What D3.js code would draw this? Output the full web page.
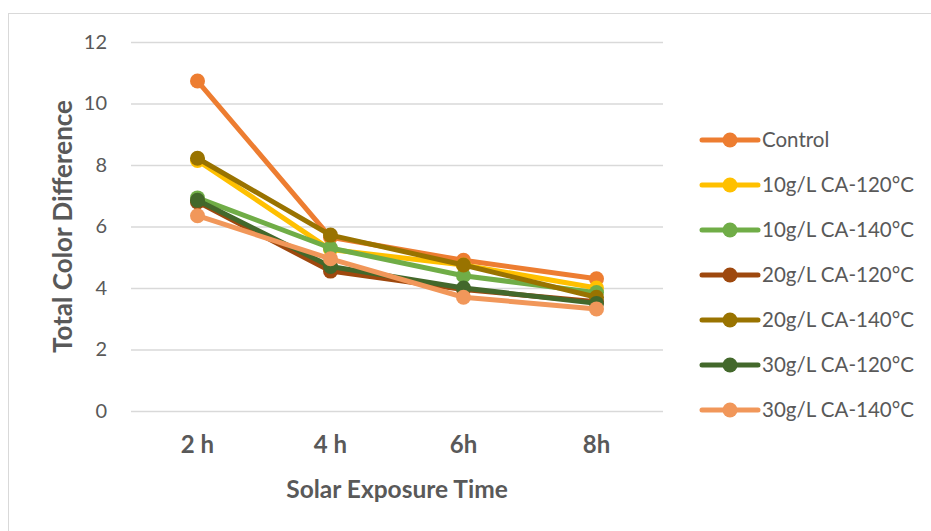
<!DOCTYPE html>
<html>
<head>
<meta charset="utf-8">
<script src="https://cdn.jsdelivr.net/npm/d3@7"></script>
<style>
  html, body { margin: 0; padding: 0; background: #fff; }
  svg { display: block; }
  text { font-family: Lato, "Open Sans", sans-serif; fill: #595959; }
</style>
</head>
<body>
<svg id="chart" width="931" height="531"></svg>
<script>
// Exposure times along the x axis
const times = ["2 h", "4 h", "6h", "8h"];

// Total colour difference for each treatment
const seriesNames = [
  "Control",
  "10g/L CA-120°C",
  "10g/L CA-140°C",
  "20g/L CA-120°C",
  "20g/L CA-140°C",
  "30g/L CA-120°C",
  "30g/L CA-140°C"
];
const control   = [10.73, 5.65, 4.90, 4.30];
const ca10_120  = [8.15, 5.25, 4.75, 4.00];
const ca10_140  = [6.93, 5.30, 4.40, 3.85];
const ca20_120  = [6.80, 4.55, 3.95, 3.55];
const ca20_140  = [8.22, 5.72, 4.75, 3.70];
const ca30_120  = [6.85, 4.70, 4.00, 3.50];
const ca30_140  = [6.35, 4.95, 3.70, 3.32];
const seriesValues = [control, ca10_120, ca10_140, ca20_120, ca20_140, ca30_120, ca30_140];
const seriesColors = ["#ED7D31", "#FFC000", "#70AD47", "#9E480E", "#997300", "#43682B", "#F1975A"];

const yTicks = [0, 2, 4, 6, 8, 10, 12];

const svg = d3.select("#chart");

// Chart area border
svg.append("rect")
  .attr("x", 8.5).attr("y", 13.5)
  .attr("width", 1000).attr("height", 1000)
  .attr("fill", "none").attr("stroke", "#d9d9d9").attr("stroke-width", 1);

const plot = { left: 131, right: 663, top: 42, bottom: 411 };

const x = d3.scaleBand().domain(times).range([plot.left, plot.right]);
const y = d3.scaleLinear().domain([0, 12]).range([plot.bottom, plot.top]);

// Gridlines and y tick labels
const yAxis = d3.axisLeft(y).tickValues(yTicks).tickSize(plot.left - plot.right).tickPadding(24);
const gy = svg.append("g").attr("transform", `translate(${plot.left},0)`).call(yAxis);
gy.select(".domain").remove();
gy.selectAll(".tick line").attr("stroke", "#d9d9d9").attr("stroke-width", 1.5);
gy.selectAll(".tick text").attr("font-size", 20).attr("fill", "#595959")
  .style("font-family", "Lato, sans-serif");

// Category labels
const xAxis = d3.axisBottom(x).tickSize(0).tickPadding(25);
const gx = svg.append("g").attr("transform", `translate(0,${plot.bottom})`).call(xAxis);
gx.select(".domain").remove();
gx.selectAll(".tick text").attr("font-size", 24).attr("font-weight", "bold").attr("fill", "#595959")
  .style("font-family", "Lato, sans-serif");

// Axis titles
svg.append("text")
  .attr("x", 397).attr("y", 498)
  .attr("text-anchor", "middle")
  .attr("font-size", 24.5).attr("font-weight", "bold")
  .text("Solar Exposure Time");

svg.append("text")
  .attr("transform", `translate(72,${(plot.top + plot.bottom) / 2}) rotate(-90)`)
  .attr("text-anchor", "middle")
  .attr("font-size", 26).attr("font-weight", "bold")
  .text("Total Color Difference");

// Series lines and markers
const line = d3.line()
  .x((d, i) => x(times[i]) + x.bandwidth() / 2)
  .y(d => y(d));

seriesValues.forEach((vals, s) => {
  const g = svg.append("g");
  g.append("path")
    .datum(vals)
    .attr("d", line)
    .attr("fill", "none")
    .attr("stroke", seriesColors[s])
    .attr("stroke-width", 5)
    .attr("stroke-linejoin", "round");
  g.selectAll("circle")
    .data(vals)
    .join("circle")
    .attr("cx", (d, i) => x(times[i]) + x.bandwidth() / 2)
    .attr("cy", d => y(d))
    .attr("r", 7.5)
    .attr("fill", seriesColors[s]);
});

// Legend
const legend = svg.append("g");
seriesNames.forEach((name, s) => {
  const ly = 140 + s * 45;
  legend.append("line")
    .attr("x1", 702).attr("x2", 758)
    .attr("y1", ly).attr("y2", ly)
    .attr("stroke", seriesColors[s]).attr("stroke-width", 5).attr("stroke-linecap", "round");
  legend.append("circle")
    .attr("cx", 730).attr("cy", ly).attr("r", 7.5)
    .attr("fill", seriesColors[s]);
  legend.append("text")
    .attr("x", 762).attr("y", ly)
    .attr("dy", "0.35em")
    .attr("font-size", 20.5)
    .text(name);
});
</script>
</body>
</html>
